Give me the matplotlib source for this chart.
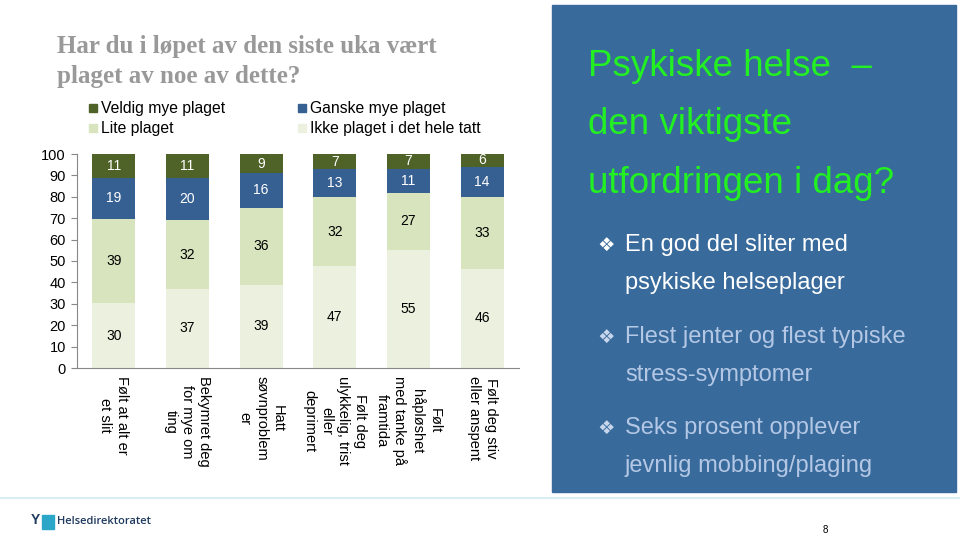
import matplotlib
matplotlib.use("Agg")
import matplotlib.pyplot as plt
from matplotlib.patches import Rectangle
import numpy as np

plt.rcParams['font.family'] = ['Liberation Sans', 'DejaVu Sans']

categories = ["Følt at alt er\net slit", "Bekymret deg\nfor mye om\nting", "Hatt\nsøvnproblem\ner",
              "Følt deg\nulykkelig, trist\neller\ndeprimert", "Følt\nhåpløshet\nmed tanke på\nframtida",
              "Følt deg stiv\neller anspent"]
ikke = [30, 37, 39, 47, 55, 46]
lite = [39, 32, 36, 32, 27, 33]
ganske = [19, 20, 16, 13, 11, 14]
veldig = [11, 11, 9, 7, 7, 6]
series_names = ["Veldig mye plaget", "Ganske mye plaget", "Lite plaget", "Ikke plaget i det hele tatt"]
colors = {"Veldig mye plaget": "#4F6228", "Ganske mye plaget": "#376092",
          "Lite plaget": "#D7E4BD", "Ikke plaget i det hele tatt": "#EBF1DE"}
text_colors = {"Veldig mye plaget": "white", "Ganske mye plaget": "white",
               "Lite plaget": "black", "Ikke plaget i det hele tatt": "black"}

W, H = 960, 534
fig = plt.figure(figsize=(W / 100, H / 100), dpi=100)
fig.patch.set_facecolor("white")

def px(x0, y0, w, h):
    return [x0 / W, 1 - (y0 + h) / H, w / W, h / H]

ax = fig.add_axes(px(77, 154, 442, 214))
stack = [("Ikke plaget i det hele tatt", ikke), ("Lite plaget", lite),
         ("Ganske mye plaget", ganske), ("Veldig mye plaget", veldig)]
totals = np.array(ikke) + np.array(lite) + np.array(ganske) + np.array(veldig)
x = np.arange(len(categories))
bottom = np.zeros(len(categories))
for name, vals in stack:
    v = np.array(vals, dtype=float)
    h = v / totals * 100
    ax.bar(x, h, bottom=bottom, width=0.58, color=colors[name], edgecolor="none")
    for i in range(len(x)):
        ax.text(x[i], bottom[i] + h[i] / 2, str(vals[i]), ha="center", va="center",
                fontsize=10, color=text_colors[name])
    bottom += h

ax.set_xlim(-0.5, len(categories) - 0.5)
ax.set_ylim(0, 100)
ax.set_yticks(range(0, 101, 10))
ax.tick_params(axis="y", labelsize=10.5, length=4, color="#888888", pad=4)
ax.tick_params(axis="x", length=0, pad=6)
ax.set_xticks(x)
ax.set_xticklabels(categories, rotation=270, fontsize=10.5, va="top", ha="center",
                   multialignment="center", linespacing=1.25)
for s in ["top", "right"]:
    ax.spines[s].set_visible(False)
ax.spines["left"].set_color("#888888")
ax.spines["bottom"].set_color("#888888")

# Legend
leg_items = [("Veldig mye plaget", 93, 108), ("Ganske mye plaget", 302, 108),
             ("Lite plaget", 93, 128), ("Ikke plaget i det hele tatt", 302, 128)]
for name, lx, ly in leg_items:
    fig.patches.append(Rectangle(((lx - 4) / W, 1 - (ly + 4) / H), 8 / W, 8 / H,
                                 transform=fig.transFigure, color=colors[name]))
    fig.text((lx + 8) / W, 1 - ly / H, name, fontsize=11.3, va="center", ha="left")

# Title
fig.text(57 / W, 1 - 46 / H, "Har du i løpet av den siste uka vært", fontsize=18,
         family="Liberation Serif", weight="bold", color="#999999", va="center")
fig.text(57 / W, 1 - 77 / H, "plaget av noe av dette?", fontsize=18,
         family="Liberation Serif", weight="bold", color="#999999", va="center")

# Right panel
fig.patches.append(Rectangle((552 / W, 1 - 492 / H), 404 / W, 487 / H,
                             transform=fig.transFigure, color="#386A9B"))
green = "#22F022"
for txt, yy in [("Psykiske helse  –", 66), ("den viktigste", 124), ("utfordringen i dag?", 183)]:
    fig.text(588 / W, 1 - yy / H, txt, fontsize=26.5, color=green, va="center", ha="left")

bullets = [("En god del sliter med", "psykiske helseplager", 245, "white"),
           ("Flest jenter og flest typiske", "stress-symptomer", 337, "#B4C8E6"),
           ("Seks prosent opplever", "jevnlig mobbing/plaging", 428, "#B4C8E6")]
for l1, l2, yy, col in bullets:
    fig.text(597 / W, 1 - yy / H, "❖", fontsize=14, color="white" if col == "white" else "#C8D6EC",
             va="center", ha="left", family=["DejaVu Sans"])
    fig.text(625 / W, 1 - yy / H, l1, fontsize=17, color=col, va="center", ha="left")
    fig.text(625 / W, 1 - (yy + 38) / H, l2, fontsize=17, color=col, va="center", ha="left")

# bottom line
fig.add_artist(plt.Line2D([0, 1], [1 - 498 / H, 1 - 498 / H], transform=fig.transFigure,
                          color="#D8EEF0", lw=1.5))

# Logo
fig.patches.append(Rectangle((42 / W, 1 - 529 / H), 12 / W, 14 / H,
                             transform=fig.transFigure, color="#2AA6C8"))
fig.text(31 / W, 1 - 520 / H, "Y", fontsize=10, weight="bold", color="#1F3A5F", va="center", ha="left")
fig.text(57 / W, 1 - 522 / H, "Helsedirektoratet", fontsize=8, color="#1F3A5F", va="center",
         ha="left", weight="semibold", family=["Open Sans", "DejaVu Sans"])
fig.text(823 / W, 1 - 530 / H, "8", fontsize=7, color="black", va="center", ha="left")

fig.savefig("out.png", dpi=100)
